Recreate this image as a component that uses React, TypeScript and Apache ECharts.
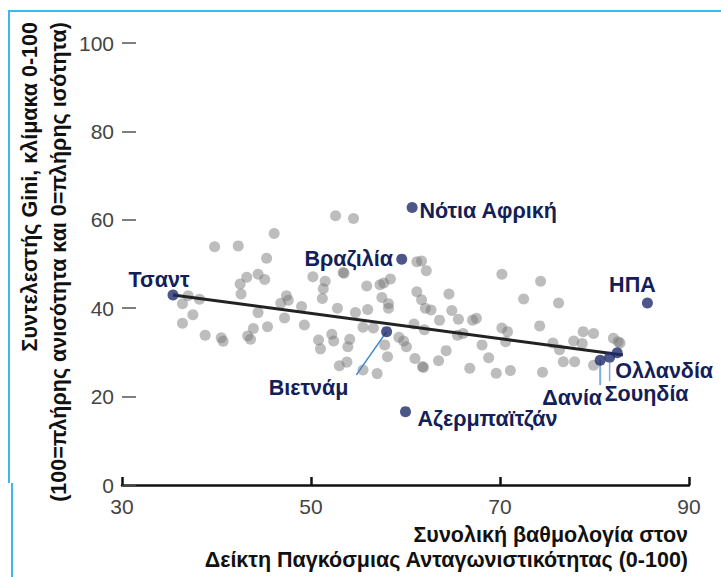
import React, { useEffect, useRef } from "react";
import * as echarts from "echarts";

// x ticks / y ticks
const xTicks = [30, 50, 70, 90];
const yTicks = [0, 20, 40, 60, 80, 100];

// Grey background countries: [competitiveness score, Gini]
const grayPoints: [number, number][] = [
  [36.4, 41.0], [37.0, 42.8], [38.2, 42.0], [37.5, 38.5], [36.4, 36.6], [38.8, 33.9], [40.5, 33.3], [40.7, 32.5],
  [39.8, 53.9], [42.3, 54.1], [46.1, 56.9], [45.3, 51.3], [43.2, 47.0], [44.4, 47.7], [45.1, 46.5], [42.5, 45.5],
  [42.6, 43.2], [44.4, 39.0], [43.3, 33.7], [43.6, 33.0], [43.9, 35.4], [45.4, 35.8],
  [46.8, 41.1], [47.4, 42.8], [47.6, 41.8], [47.2, 37.8], [49.0, 40.4], [49.3, 36.2], [50.2, 47.1], [51.5, 46.1],
  [51.3, 44.4], [51.2, 42.2], [50.8, 32.8], [51.0, 30.8], [52.6, 60.9], [54.5, 60.3], [53.4, 48.1], [53.5, 47.9],
  [52.8, 40.0], [54.7, 39.0], [56.0, 39.7], [55.5, 35.7], [56.6, 35.5], [52.2, 34.1], [52.4, 32.6], [54.1, 33.0],
  [53.9, 31.3], [53.0, 27.0], [53.8, 27.8], [57.0, 25.2], [55.5, 26.0], [55.9, 45.0], [57.3, 45.3], [57.7, 45.7],
  [58.4, 46.6], [57.5, 42.4], [58.2, 41.0], [58.2, 40.0], [57.8, 31.7], [58.1, 29.0], [59.3, 33.4], [59.8, 32.6],
  [60.1, 31.3], [61.0, 28.6], [61.8, 26.8], [61.2, 50.5], [61.7, 50.7], [62.2, 48.5], [61.2, 43.7], [61.7, 41.9],
  [62.1, 40.0], [62.7, 39.6], [62.0, 35.1], [60.9, 36.4], [63.6, 37.3], [64.6, 43.2], [64.9, 39.5], [65.6, 37.5],
  [67.1, 37.3], [67.5, 37.7], [65.5, 33.9], [66.1, 34.3], [64.3, 30.4], [63.5, 28.1], [61.9, 26.6], [68.1, 31.7],
  [68.8, 28.8], [66.8, 26.4], [69.6, 25.3], [71.1, 25.9], [70.2, 35.5], [70.8, 34.7], [70.6, 32.4], [70.2, 47.7],
  [72.5, 42.1], [74.3, 46.1], [74.2, 36.0], [74.5, 25.5], [75.6, 32.1], [76.3, 30.6], [76.2, 41.2], [76.7, 27.9],
  [77.9, 27.9], [77.8, 32.6], [78.7, 32.0], [78.8, 34.7], [79.9, 34.3], [79.9, 27.1], [82.0, 33.2], [82.5, 32.4],
  [82.7, 32.1],
];

// Highlighted countries
const hlNames = ["Τσαντ", "Νότια Αφρική", "Βραζιλία", "ΗΠΑ", "Βιετνάμ", "Αζερμπαϊτζάν", "Δανία", "Σουηδία", "Ολλανδία"];
const hlX = [35.4, 60.7, 59.6, 85.6, 58.0, 60.0, 80.6, 81.6, 82.4];
const hlY = [43.0, 62.8, 51.1, 41.2, 34.7, 16.6, 28.2, 28.9, 29.9];

// Trend line end points
const trendX = [35.4, 83.0];
const trendY = [43.0, 29.4];

// Leader lines (data coordinates)
const leaderVietnam: [number, number][] = [[58.0, 34.7], [54.8, 24.9]];
const leaderDenmark: [number, number][] = [[80.6, 28.2], [80.6, 22.6]];
const leaderSweden: [number, number][] = [[81.6, 27.6], [81.6, 23.5]];

// label layout (pixel offsets from point centre)
const labelOffsets: Record<string, [number, number]> = {
  "Τσαντ": [-14, -15],
  "Νότια Αφρική": [76, 4],
  "Βραζιλία": [-53, 0],
  "ΗΠΑ": [-15, -18],
  "Βιετνάμ": [-78, 56],
  "Αζερμπαϊτζάν": [82, 7],
  "Δανία": [-28, 38],
  "Σουηδία": [37, 37],
  "Ολλανδία": [47, 18],
};

const FONT = "'Liberation Sans', Arial, sans-serif";
const NAVY = "#132058";
const TITLE_SIZE = 21.5;

export default function App() {
  const ref = useRef<HTMLDivElement>(null);
  useEffect(() => {
    if (!ref.current) return;
    const chart = echarts.init(ref.current, null, { renderer: "svg" });
    const titleStyle = (text: string) => ({
      text,
      fill: "#111",
      fontSize: TITLE_SIZE,
      fontWeight: "bold",
      fontFamily: FONT,
      align: "right",
      verticalAlign: "middle",
    });
    const option: any = {
      animation: false,
      backgroundColor: "#ffffff",
      textStyle: { fontFamily: FONT },
      grid: { left: 122, right: 32, top: 43, bottom: 92, containLabel: false },
      xAxis: {
        type: "value",
        min: xTicks[0],
        max: xTicks[xTicks.length - 1],
        interval: 20,
        axisLine: { show: true, lineStyle: { color: "#111", width: 2.5 } },
        axisTick: { show: true, inside: true, length: 8, lineStyle: { color: "#111", width: 2.5 } },
        axisLabel: { color: "#444", fontSize: 21, margin: 11, fontFamily: FONT },
        splitLine: { show: false },
      },
      yAxis: {
        type: "value",
        min: yTicks[0],
        max: yTicks[yTicks.length - 1],
        interval: 20,
        axisLine: { show: false },
        axisTick: { show: true, inside: true, length: 14, lineStyle: { color: "#555", width: 1.5 } },
        axisLabel: { color: "#444", fontSize: 21, margin: 8, fontFamily: FONT },
        splitLine: { show: false },
      },
      series: [
        {
          type: "scatter",
          data: grayPoints,
          symbolSize: 11,
          itemStyle: { color: "rgba(118,118,118,0.6)" },
          z: 2,
        },
        {
          type: "line",
          data: trendX.map((x, i) => [x, trendY[i]]),
          symbol: "none",
          lineStyle: { color: "#222", width: 3 },
          z: 3,
        },
        {
          type: "line",
          data: leaderVietnam,
          symbol: "none",
          lineStyle: { color: "#3a86c8", width: 1.5 },
          z: 3,
        },
        {
          type: "line",
          data: leaderDenmark,
          symbol: "none",
          lineStyle: { color: "#7fb0dc", width: 2 },
          z: 3,
        },
        {
          type: "line",
          data: leaderSweden,
          symbol: "none",
          lineStyle: { color: "#7fb0dc", width: 1.5 },
          z: 3,
        },
        {
          type: "scatter",
          symbolSize: 11,
          itemStyle: { color: "#1f2c6c" },
          z: 5,
          data: hlNames.map((n, i) => ({
            name: n,
            value: [hlX[i], hlY[i]],
            label: {
              show: true,
              formatter: n,
              position: "inside",
              offset: labelOffsets[n],
              color: NAVY,
              opacity: 1,
              textBorderWidth: 0,
              textBorderColor: "transparent",
              textShadowBlur: 0,
              fontSize: 21.5,
              fontWeight: "bold",
              fontFamily: FONT,
            },
          })),
        },
      ],
      graphic: [
        { type: "line", shape: { x1: 8, y1: 11, x2: 721, y2: 11 }, style: { stroke: "#3cb8ec", lineWidth: 2 } },
        { type: "line", shape: { x1: 9, y1: 11, x2: 9, y2: 483 }, style: { stroke: "#3cb8ec", lineWidth: 2 } },
        { type: "line", shape: { x1: 12, y1: 483, x2: 12, y2: 577 }, style: { stroke: "#3cb8ec", lineWidth: 2 } },
        { type: "text", x: 688, y: 535, style: titleStyle("Συνολική βαθμολογία στον") },
        { type: "text", x: 688, y: 560, style: titleStyle("Δείκτη Παγκόσμιας Ανταγωνιστικότητας (0-100)") },
        { type: "text", x: 30, y: 22, rotation: Math.PI / 2, style: titleStyle("Συντελεστής Gini, κλίμακα 0-100") },
        {
          type: "text",
          x: 59,
          y: 22,
          rotation: Math.PI / 2,
          style: titleStyle("(100=πλήρης ανισότητα και 0=πλήρης ισότητα)"),
        },
      ],
    };
    chart.setOption(option);
    return () => chart.dispose();
  }, []);
  return (
    <div
      ref={ref}
      style={{ position: "fixed", left: 0, top: 0, width: 721, height: 577, background: "#fff" }}
    />
  );
}
